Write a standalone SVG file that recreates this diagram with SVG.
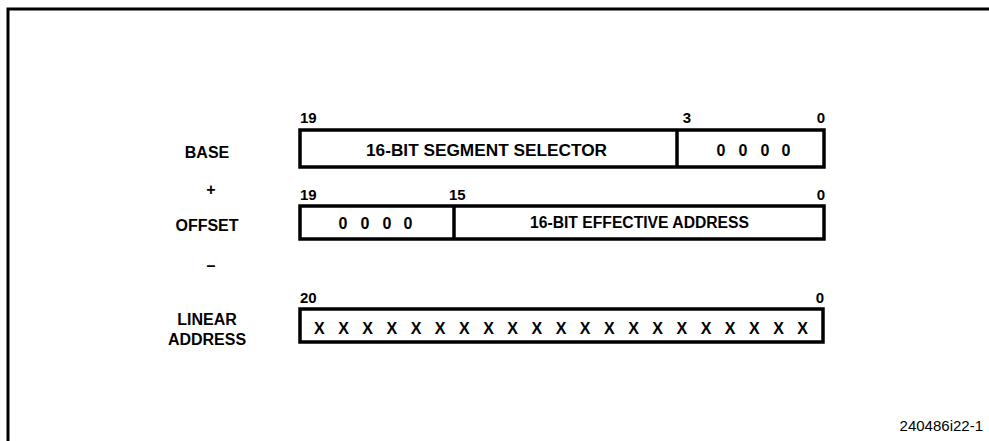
<svg xmlns="http://www.w3.org/2000/svg" width="989" height="441" viewBox="0 0 989 441">
<style>
.t{font-family:"Liberation Sans",Arial,sans-serif;font-weight:bold;font-size:16px;fill:#000}
.n{font-family:"Liberation Sans",Arial,sans-serif;font-weight:bold;font-size:15px;fill:#000}
.box{fill:#fff;stroke:#000;stroke-width:3.5}
.div{stroke:#000;stroke-width:3.5}
.fr{stroke:#000;stroke-width:3;fill:none}
.c{text-anchor:middle}
</style>
<rect width="989" height="441" fill="#fff"/>
<path class="fr" d="M8,441 V9 H989"/>
<g id="labels">
<text class="t c" x="207" y="158">BASE</text>
<text class="t c" x="211" y="195">+</text>
<text class="t c" x="207" y="231">OFFSET</text>
<text class="t c" x="211" y="271">–</text>
<text class="t c" x="207" y="325">LINEAR</text>
<text class="t c" x="207" y="345">ADDRESS</text>
</g>
<g id="base">
<rect class="box" x="300" y="130" width="524" height="37"/>
<line class="div" x1="677" y1="130" x2="677" y2="167"/>
<text class="n" x="300" y="123">19</text>
<text class="n c" x="687" y="123">3</text>
<text class="n" x="825" y="123" text-anchor="end">0</text>
<text class="t" x="366" y="156" textLength="241" lengthAdjust="spacingAndGlyphs">16-BIT SEGMENT SELECTOR</text>
<text class="t c" x="721" y="156">0</text>
<text class="t c" x="743" y="156">0</text>
<text class="t c" x="765" y="156">0</text>
<text class="t c" x="786" y="156">0</text>
</g>
<g id="offset">
<rect class="box" x="300" y="206" width="524" height="33"/>
<line class="div" x1="454" y1="206" x2="454" y2="239"/>
<text class="n" x="300" y="200">19</text>
<text class="n" x="449" y="200">15</text>
<text class="n" x="825" y="200" text-anchor="end">0</text>
<text class="t c" x="343" y="229">0</text>
<text class="t c" x="365" y="229">0</text>
<text class="t c" x="387" y="229">0</text>
<text class="t c" x="408" y="229">0</text>
<text class="t" x="530" y="228" textLength="219" lengthAdjust="spacingAndGlyphs">16-BIT EFFECTIVE ADDRESS</text>
</g>
<g id="linear">
<rect class="box" x="300" y="309" width="523" height="33"/>
<text class="n" x="300" y="303">20</text>
<text class="n" x="824" y="303" text-anchor="end">0</text>
<text class="t" x="314" y="334" textLength="494" lengthAdjust="spacing">X X X X X X X X X X X X X X X X X X X X X</text>
</g>
<text x="983" y="431" text-anchor="end" font-family="Liberation Sans,Arial,sans-serif" font-size="15" fill="#000">240486i22-1</text>
</svg>
